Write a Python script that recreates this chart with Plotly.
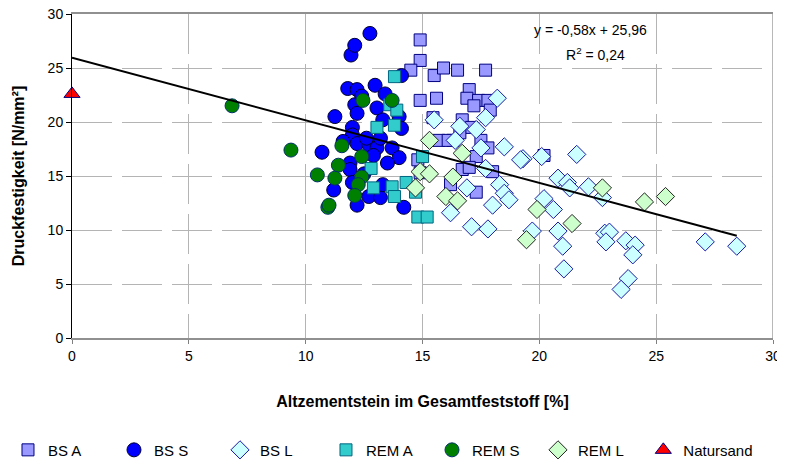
import plotly.graph_objects as go

# Altzementstein im Gesamtfeststoff [%] / Druckfestigkeit [N/mm²]
bs_a_x = [14.9, 14.9, 14.5, 15.5, 15.9, 16.5, 17.7, 14.9, 15.6, 17.0, 16.9, 17.4, 17.8, 17.9, 15.45, 16.3, 16.7,
          17.1, 17.5, 17.8, 17.3, 16.7, 17.0, 18.0, 16.2, 17.3, 14.8, 14.9, 20.2, 15.7, 16.1, 16.6, 17.2]
bs_a_y = [27.6, 25.7, 24.8, 24.3, 25.0, 24.8, 24.8, 22.0, 22.2, 23.0, 22.2, 22.0, 22.0, 21.1, 20.4, 18.3, 20.2,
          19.5, 18.3, 17.6, 16.8, 15.6, 15.8, 15.4, 14.2, 13.5, 16.5, 15.3, 16.9, 18.3, 18.3, 19.0, 21.5]

bs_s_x = [11.94, 12.1, 12.75, 11.8, 12.2, 12.97, 12.1, 12.2, 11.25, 13.05, 14.0, 12.0, 13.3, 10.7, 12.0, 12.2,
          12.7, 13.05, 13.7, 14.0, 13.5, 11.9, 11.9, 12.0, 11.2, 12.2, 12.7, 13.2, 14.2, 12.6, 13.2, 14.1, 14.1,
          12.4, 13.4, 11.6, 12.9, 13.3, 12.5]
bs_s_y = [26.2, 27.1, 28.2, 23.1, 23.0, 23.4, 21.6, 20.8, 20.5, 21.3, 20.5, 19.5, 20.2, 17.2, 18.8, 18.0,
          17.9, 17.6, 17.6, 16.7, 16.2, 16.2, 15.6, 14.4, 13.7, 12.3, 13.1, 13.0, 12.1, 18.5, 18.5, 24.3, 19.4,
          22.4, 22.6, 18.2, 16.9, 14.2, 15.2]

bs_l_x = [18.2, 15.5, 16.6, 17.3, 17.7, 17.5, 18.5, 19.3, 20.1, 21.6, 17.7, 18.3, 18.5, 18.7, 16.9, 18.0, 16.2,
          17.1, 17.8, 19.7, 20.8, 21.2, 21.3, 22.1, 20.2, 20.6, 20.8, 21.0, 21.05, 22.7, 22.8, 23.0, 22.85, 23.7,
          24.1, 24.0, 23.8, 23.5, 27.1, 28.45, 16.4, 19.2]
bs_l_y = [22.2, 20.2, 19.6, 19.3, 20.4, 17.6, 17.7, 16.6, 16.8, 17.0, 15.7, 14.2, 13.4, 12.8, 13.9, 12.3, 11.6,
          10.3, 10.1, 9.9, 14.8, 14.4, 13.9, 14.0, 12.9, 11.9, 9.9, 8.5, 6.4, 13.0, 9.7, 9.8, 8.9, 9.0,
          8.6, 7.7, 5.5, 4.5, 8.9, 8.5, 18.3, 16.5]

rem_a_x = [13.8, 13.6, 13.9, 13.05, 13.8, 12.8, 12.9, 13.7, 13.8, 14.3, 15.0, 14.8, 15.2, 14.7]
rem_a_y = [24.2, 21.6, 21.1, 19.5, 19.7, 15.7, 13.9, 14.0, 13.1, 14.4, 16.8, 11.2, 11.2, 13.5]

rem_s_x = [6.85, 9.37, 10.5, 11.55, 11.4, 11.25, 12.4, 12.4, 12.25, 12.1, 10.95, 11.0, 12.45, 13.7]
rem_s_y = [21.5, 17.4, 15.1, 17.8, 16.0, 14.8, 16.8, 14.9, 14.2, 13.2, 12.1, 12.3, 22.0, 22.0]

rem_l_x = [15.3, 16.7, 14.9, 15.3, 16.3, 14.7, 16.0, 16.5, 19.9, 21.4, 19.45, 22.7, 24.5, 25.4]
rem_l_y = [18.3, 17.1, 15.4, 15.2, 14.9, 13.9, 13.1, 12.7, 11.9, 10.6, 9.1, 13.9, 12.6, 13.1]

natursand_x = [0.0]
natursand_y = [22.6]

# linear trend: y = -0,58x + 25,96
slope = -0.58
intercept = 25.96
trend_x = [0.0, 28.45]
trend_y = [slope * x + intercept for x in trend_x]

font = "Liberation Sans, Arial, sans-serif"

series = [
    ("BS A", bs_a_x, bs_a_y, "square", 12, "#9999FF", "#000080", "legend"),
    ("BS S", bs_s_x, bs_s_y, "circle", 14, "#0000FF", "#000033", "legend"),
    ("BS L", bs_l_x, bs_l_y, "diamond", 14, "#CCFFFF", "#1A1AA6", "legend"),
    ("REM A", rem_a_x, rem_a_y, "square", 12, "#33CCCC", "#006680", "legend"),
    ("REM S", rem_s_x, rem_s_y, "circle", 14, "#008000", "#003366", "legend"),
    ("REM L", rem_l_x, rem_l_y, "diamond", 14, "#CCFFCC", "#222222", "legend"),
    ("Natursand", natursand_x, natursand_y, "triangle-up", 14, "#FF0000", "#000080", "legend2"),
]

fig = go.Figure()
for name, xs, ys, sym, size, fill, edge, leg in series:
    fig.add_trace(go.Scatter(
        x=xs, y=ys, mode="markers", name=name, cliponaxis=False, legend=leg,
        marker=dict(symbol=sym, size=size, color=fill, line=dict(color=edge, width=1)),
    ))

fig.add_trace(go.Scatter(
    x=trend_x, y=trend_y, mode="lines", showlegend=False,
    line=dict(color="black", width=2),
))

# right border of the plot area
fig.add_shape(type="line", xref="x", yref="y", x0=30, x1=30, y0=0, y1=30,
              line=dict(color="#A0A0A0", width=1.5), layer="below")

fig.add_annotation(x=22.2, y=28.5, text="y = -0,58x + 25,96", showarrow=False,
                   font=dict(family=font, size=14, color="black"))
fig.add_annotation(x=22.4, y=26.3, text="R<sup>2</sup> = 0,24", showarrow=False,
                   font=dict(family=font, size=14, color="black"))

# page body adds 8px on the left/top, so the figure is 8px smaller
fig.update_layout(
    width=777, height=456,
    margin=dict(l=64, r=12, t=6, b=126, autoexpand=False),
    paper_bgcolor="white", plot_bgcolor="white",
    font=dict(family=font, size=14, color="black"),
    legend=dict(
        orientation="h",
        x=-0.0913, xanchor="left", y=-0.346, yanchor="middle",
        entrywidth=61, entrywidthmode="pixels", itemwidth=30,
        font=dict(family=font, size=15), itemclick=False,
    ),
    legend2=dict(
        orientation="h",
        x=0.815, xanchor="left", y=-0.346, yanchor="middle",
        itemwidth=30, font=dict(family=font, size=15), itemclick=False,
    ),
)

fig.update_xaxes(
    range=[0, 30], tickvals=[0, 5, 10, 15, 20, 25, 30], ticks="outside", ticklen=4,
    tickcolor="#808080", showline=True, linecolor="#909090", linewidth=2, mirror=True,
    showgrid=True, gridcolor="#B4B4B4", griddash="40px,10px", zeroline=False, automargin=False,
    ticklabeloverflow="allow",
    title=dict(text="<b>Altzementstein im Gesamtfeststoff [%]</b>", font=dict(size=16), standoff=33),
)
fig.update_yaxes(
    range=[0, 30], tickvals=[0, 5, 10, 15, 20, 25, 30], ticks="outside", ticklen=5,
    tickcolor="black", showline=True, linecolor="black", linewidth=1,
    showgrid=True, gridcolor="#B4B4B4", griddash="40px,10px", zeroline=False, automargin=False,
    ticklabeloverflow="allow",
    title=dict(text="<b>Druckfestigkeit [N/mm²]</b>", font=dict(size=16), standoff=19),
)

fig.write_html("out.html")
